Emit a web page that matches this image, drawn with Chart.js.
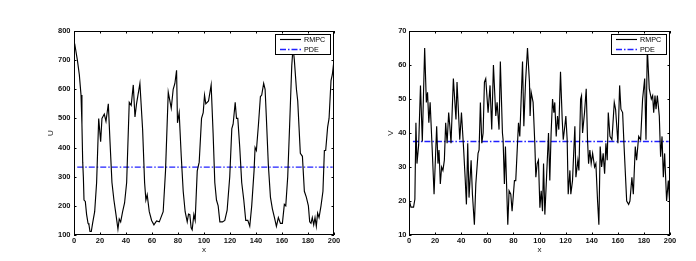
<!DOCTYPE html>
<html>
<head>
<meta charset="utf-8">
<script src="https://cdn.jsdelivr.net/npm/chart.js@4.4.1/dist/chart.umd.min.js"></script>
<style>
  html, body { margin: 0; padding: 0; background: #fff; }
  body { width: 696px; height: 261px; position: relative; overflow: hidden; }
  canvas { position: absolute; top: 0; }
  #cU { left: 0; }
  #cV { left: 348px; }
</style>
</head>
<body>
<canvas id="cU" width="348" height="261"></canvas>
<canvas id="cV" width="348" height="261"></canvas>
<script>
// ---------- data ----------
const seriesNames = ['RMPC', 'PDE'];
const xTicks = [0, 20, 40, 60, 80, 100, 120, 140, 160, 180, 200];
const uTicks = [100, 200, 300, 400, 500, 600, 700, 800];
const vTicks = [10, 20, 30, 40, 50, 60, 70];

// Left panel: U
const uX = [0.5, 2.6, 4.1, 5.4, 6.1, 6.7, 7.2, 7.7, 8.7, 9.7, 10.8, 11.5, 12.3, 13.3, 14.3, 15.9, 17.4, 19,
  20.5, 21.5, 23.3, 24.6, 26.4, 27.7, 29.2, 30.7, 32.3, 33.8, 34.8, 35.9, 37.4, 38.9, 40.5, 42.5, 44, 45.6,
  46.9, 48.1, 50.7, 52.8, 54.3, 55.3, 56.3, 57.9, 59.7, 61.5, 63.5, 65.6, 68.6, 70.4, 72.5, 74.8, 76.3,
  77.6, 78.9, 79.6, 80.9, 82.5, 84, 85.5, 87.1, 88.1, 89.1, 90.1, 90.9, 92.2, 93.2, 94.8, 96.3, 98.1, 99.4,
  100.4, 101.4, 103.5, 105.5, 107, 108.3, 109.6, 110.9, 112.2, 114.2, 116, 117.8, 119.8, 121.4, 122.4, 124,
  125, 126, 127.5, 129, 130.6, 132.1, 133.7, 135.2, 136.7, 138.5, 139.3, 140.3, 141.9, 143.4, 144.4, 145.9,
  147, 148, 149.5, 151.1, 152.6, 154.2, 155.7, 157.2, 158.8, 160.3, 161.8, 162.9, 164.4, 165.9, 167.5,
  168.5, 169.5, 171.1, 172.1, 173.1, 174.1, 175.7, 177.2, 178.7, 180.3, 181.3, 182.3, 183.3, 184.4, 185.4,
  186.4, 187.4, 188.5, 190, 191.5, 192.6, 193.6, 195.1, 196.2, 197.7, 198.7, 200];
const uY = [757, 700, 650, 580, 480, 350, 300, 220, 215, 170, 140, 135, 112, 112, 140, 180, 280, 500,
  420, 500, 515, 490, 550, 420, 280, 220, 170, 120, 155, 145, 180, 210, 280, 555, 545, 615,
  505, 550, 620, 460, 280, 220, 238, 180, 150, 135, 148, 145, 180, 320, 590, 535, 600,
  620, 665, 485, 520, 370, 250, 180, 145, 172, 170, 125, 118, 170, 150, 320, 350, 500, 520,
  580, 550, 560, 615, 450, 280, 220, 200, 145, 145, 150, 185, 300, 465, 480, 555,
  500, 500, 400, 280, 220, 150, 150, 130, 200, 320, 400, 390, 480, 575, 580, 620,
  600, 500, 340, 230, 190, 160, 130, 160, 140, 140, 205, 200, 300, 480, 680,
  745, 700, 600, 560, 470, 380, 370, 250, 230, 200, 145, 140, 160, 135, 160,
  130, 175, 160, 200, 250, 390, 390, 470, 500, 630, 650, 700];
const pdeUX = [2.5, 199];
const pdeUY = [333, 333];

// Right panel: V
const vX = [0, 1.5, 3.5, 4.5, 5.3, 6.1, 7.4, 8.8, 10.2, 12, 13.3, 14.2, 15.2, 16.2, 17.8, 19.2, 21.2, 22.2,
  23, 24, 25, 26, 27.1, 28.1, 29.2, 30.4, 31.3, 32.2, 34, 36, 36.8, 38.9, 40.2, 41.9, 43, 44, 45, 46, 47.6,
  48.6, 50.1, 51.2, 52.9, 53.7, 54.7, 55.8, 56.8, 57.8, 58.8, 60.6, 62.1, 63.4, 64.7, 66.5, 67.5, 69, 70,
  71.6, 72.1, 73.1, 73.9, 75.7, 76.7, 78, 79, 80.8, 81.8, 83.9, 84.9, 87, 88, 89.3, 90.8, 92.3, 92.8, 93.6,
  95.1, 96.4, 97.2, 98.2, 99.2, 100.3, 101.3, 102.3, 103.1, 104.1, 105.4, 106.9, 107.9, 108.9, 110, 111,
  111.7, 112.8, 113.8, 114.8, 116.1, 117.4, 118.2, 119.4, 120.2, 121.2, 122, 123.3, 124, 125.3, 127.1,
  127.9, 129.4, 130.2, 131.5, 132.2, 133, 134.5, 135.8, 136.8, 137.6, 138.6, 139.6, 140.7, 142.2, 143.2,
  144.5, 145.5, 146.5, 147.6, 148.8, 149.9, 150.9, 151.9, 152.7, 154, 155.5, 157.3, 158.3, 160.1, 161.4,
  162.4, 163.7, 164.7, 166.8, 168.3, 169.3, 170.8, 171.9, 173.4, 174.4, 176, 177.5, 179, 180.6, 181.6,
  182.6, 184.1, 185.7, 186.7, 187.5, 188.5, 189.3, 190.3, 191.8, 192.8, 193.9, 194.9, 195.9, 197.4, 198.7, 200];
const vY = [20.5, 18.2, 18.2, 20.5, 43, 31, 36.5, 54, 37.5, 65, 49, 52, 43, 49, 35, 22, 42, 31,
  35, 25, 30, 29, 32, 43, 37, 46, 42, 37, 56, 44, 55, 38, 46, 35, 27, 19, 37, 21, 32,
  22, 13, 25, 34, 35, 49, 37, 40, 55, 56, 46, 54, 41, 60, 45, 49, 41, 61,
  40, 38, 25, 36, 13, 23, 22, 17, 26, 26, 43, 39, 61, 42, 55, 65, 55, 45, 52,
  49, 37, 27, 31, 32, 18, 23, 17, 31, 16, 27, 40, 26, 40, 50, 46,
  49, 39, 45, 41, 58, 44, 38, 42, 45, 38, 22, 29, 22, 26, 42,
  27, 32, 29, 50, 51, 40, 46, 53, 38, 31, 35, 31, 34, 30, 31,
  20, 13, 36, 30, 34, 28, 37, 32, 46, 39, 38, 49, 47, 37, 54,
  47, 46, 37, 20, 19, 20, 27, 22, 36, 32, 39, 38, 50, 56, 38,
  65, 53, 50, 51, 46, 51, 47, 51, 45, 33, 39, 27, 34, 20, 26, 18];
const pdeVX = [3, 199];
const pdeVY = [37.5, 37.5];

// ---------- drawing ----------
const FONT = "'Liberation Sans', Arial, Helvetica, sans-serif";
const PDE_COLOR = '#2020ff';
const PDE_DASH = [6, 2, 1.5, 2];

function pts(xs, ys) { return xs.map((x, i) => ({ x: x, y: ys[i] })); }

const matlabFrame = {
  id: 'matlabFrame',
  afterDraw(chart) {
    const ctx = chart.ctx;
    const a = chart.chartArea;
    const xs = chart.scales.x, ys = chart.scales.y;
    ctx.save();
    ctx.strokeStyle = '#000';
    ctx.lineWidth = 1;
    const tl = 2.5;
    ctx.beginPath();
    xs.ticks.forEach(t => {
      const p = Math.round(xs.getPixelForValue(t.value)) + 0.5;
      ctx.moveTo(p, a.bottom); ctx.lineTo(p, a.bottom - tl);
      ctx.moveTo(p, a.top); ctx.lineTo(p, a.top + tl);
    });
    ys.ticks.forEach(t => {
      const p = Math.round(ys.getPixelForValue(t.value)) + 0.5;
      ctx.moveTo(a.left, p); ctx.lineTo(a.left + tl, p);
      ctx.moveTo(a.right, p); ctx.lineTo(a.right - tl, p);
    });
    ctx.stroke();
    ctx.strokeRect(Math.round(a.left) + 0.5, Math.round(a.top) + 0.5,
                   Math.round(a.right - a.left) - 1, Math.round(a.bottom - a.top) - 1);
    // legend box
    const w = 55, h = 20;
    const bx = Math.round(a.right) - 4 - w, by = Math.round(a.top) + 3;
    ctx.fillStyle = '#fff';
    ctx.fillRect(bx, by, w, h);
    ctx.strokeStyle = '#000';
    ctx.strokeRect(bx + 0.5, by + 0.5, w, h);
    chart.data.datasets.forEach((ds, i) => {
      const yy = by + 5.5 + i * 10;
      ctx.save();
      ctx.strokeStyle = ds.borderColor;
      ctx.lineWidth = ds.borderWidth;
      ctx.setLineDash(ds.borderDash || []);
      ctx.beginPath();
      ctx.moveTo(bx + 5, yy); ctx.lineTo(bx + 26, yy);
      ctx.stroke();
      ctx.restore();
      ctx.fillStyle = '#000';
      ctx.font = '7.2px ' + FONT;
      ctx.textBaseline = 'middle';
      ctx.textAlign = 'left';
      ctx.fillText(ds.label, bx + 29, yy + 0.5);
    });
    ctx.restore();
  }
};

function makeChart(id, xsArr, ysArr, pdeX, pdeY, yTicks, yName, axisWidth, rightPad, titlePad, labelPad) {
  const yMin = yTicks[0], yMax = yTicks[yTicks.length - 1];
  return new Chart(document.getElementById(id), {
    type: 'scatter',
    data: {
      datasets: [
        { label: seriesNames[0], data: pts(xsArr, ysArr), showLine: true, borderColor: '#000',
          borderWidth: 1.15, pointRadius: 0, tension: 0 },
        { label: seriesNames[1], data: pts(pdeX, pdeY), showLine: true, borderColor: PDE_COLOR,
          backgroundColor: PDE_COLOR, borderWidth: 1.3, borderDash: PDE_DASH, pointRadius: 0 }
      ]
    },
    options: {
      responsive: false, animation: false, devicePixelRatio: 1,
      layout: { padding: { top: 31, right: rightPad, left: 0, bottom: 0 } },
      plugins: { legend: { display: false }, tooltip: { enabled: false } },
      scales: {
        x: {
          type: 'linear', min: xTicks[0], max: xTicks[xTicks.length - 1],
          afterBuildTicks: s => { s.ticks = xTicks.map(v => ({ value: v })); },
          ticks: { color: '#111', padding: 1.2, font: { family: FONT, size: 7.5, weight: 'bold' } },
          grid: { display: false, drawTicks: false }, border: { display: false },
          title: { display: true, text: 'x', color: '#111', padding: { top: 0, bottom: 6 },
                   font: { family: FONT, size: 8 } },
          afterFit: s => { s.height = 26; }
        },
        y: {
          type: 'linear', min: yMin, max: yMax,
          afterBuildTicks: s => { s.ticks = yTicks.map(v => ({ value: v })); },
          ticks: { color: '#111', padding: labelPad, font: { family: FONT, size: 7.5, weight: 'bold' } },
          grid: { display: false, drawTicks: false }, border: { display: false },
          title: { display: true, text: yName, color: '#111', padding: { top: titlePad, bottom: 0 },
                   font: { family: FONT, size: 8 } },
          afterFit: s => { s.width = axisWidth; }
        }
      }
    },
    plugins: [matlabFrame]
  });
}

makeChart('cU', uX, uY, pdeUX, pdeUY, uTicks, 'U', 74, 14, 46, 3.5);
makeChart('cV', vX, vY, pdeVX, pdeVY, vTicks, 'V', 61, 26, 38, 2.5);
</script>
</body>
</html>
